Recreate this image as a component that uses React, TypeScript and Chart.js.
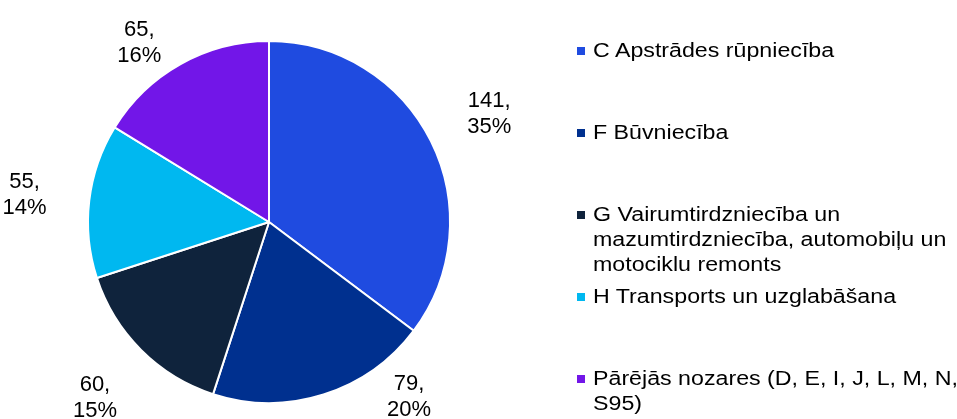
import React, { useEffect, useRef } from "react";
import { Chart, registerables } from "chart.js";

Chart.register(...registerables);

const categories = [
  "C Apstrādes rūpniecība",
  "F Būvniecība",
  "G Vairumtirdzniecība un mazumtirdzniecība, automobiļu un motociklu remonts",
  "H Transports un uzglabāšana",
  "Pārējās nozares (D, E, I, J, L, M, N, S95)",
];
const values = [141, 79, 60, 55, 65];
const colors = ["#1f4be0", "#00308f", "#0f233c", "#00b8f0", "#7216e8"];

const FONT = "'Liberation Sans', Arial, sans-serif";
const LABEL_SIZE = 22;
const LABEL_LINE = 26;

const labelPlugin = {
  id: "outsideLabels",
  afterDatasetsDraw(chart: any) {
    const ctx = chart.ctx;
    const meta = chart.getDatasetMeta(0);
    const data = chart.data.datasets[0].data as number[];
    const total = data.reduce((a, b) => a + b, 0);
    ctx.save();
    ctx.font = `${LABEL_SIZE}px ${FONT}`;
    ctx.fillStyle = "#000";
    ctx.textAlign = "center";
    ctx.textBaseline = "middle";
    const yMin = 41;
    const yMax = 400;
    meta.data.forEach((arc: any, i: number) => {
      const { x: cx, y: cy, outerRadius, startAngle, endAngle } = arc.getProps(
        ["x", "y", "outerRadius", "startAngle", "endAngle"],
        true
      );
      let dist = outerRadius * 1.36;
      let a = (startAngle + endAngle) / 2;
      let y = cy + Math.sin(a) * dist;
      if (y > yMax || y < yMin) {
        // pull the label in and slide it round the pie until it fits
        dist = outerRadius * 1.23;
        const target = y > yMax ? yMax - 5 : yMin;
        const base = Math.asin((target - cy) / dist);
        a = Math.cos(a) >= 0 ? base : Math.PI - base;
      }
      const x = cx + Math.cos(a) * dist;
      y = cy + Math.sin(a) * dist + 2;
      const pct = Math.round((data[i] / total) * 100);
      ctx.fillText(`${data[i]},`, x, y - LABEL_LINE / 2);
      ctx.fillText(`${pct}%`, x, y + LABEL_LINE / 2);
    });
    ctx.restore();
  },
};

export default function App() {
  const ref = useRef<HTMLCanvasElement>(null);
  useEffect(() => {
    if (!ref.current) return;
    const chart = new Chart(ref.current, {
      type: "pie",
      data: {
        labels: categories,
        datasets: [
          {
            data: values,
            backgroundColor: colors,
            borderColor: "#ffffff",
            borderWidth: 2,
          },
        ],
      },
      options: {
        animation: false,
        responsive: false,
        layout: { padding: { left: 87, right: 506, top: 40, bottom: 15 } },
        plugins: {
          legend: { display: false },
          tooltip: { enabled: false },
        },
      },
      plugins: [labelPlugin],
    });
    return () => chart.destroy();
  }, []);

  return (
    <div
      style={{
        position: "fixed",
        left: 0,
        top: 0,
        width: 957,
        height: 419,
        background: "#fff",
        overflow: "hidden",
      }}
    >
      <canvas ref={ref} width={957} height={419} style={{ position: "absolute", left: 0, top: 0 }} />
      {categories.map((c, i) => (
        <div
          key={i}
          style={{
            position: "absolute",
            left: 577,
            top: 38 + i * 82,
            fontFamily: FONT,
            fontSize: 20,
            lineHeight: "25px",
            color: "#000",
          }}
        >
          <span
            style={{
              position: "absolute",
              left: 0,
              top: 9,
              width: 8,
              height: 8,
              background: colors[i],
            }}
          />
          <div
            style={{
              position: "absolute",
              left: 16,
              top: 0,
              width: 322,
              transform: "scaleX(1.16)",
              transformOrigin: "left top",
              whiteSpace: "normal",
            }}
          >
            {c}
          </div>
        </div>
      ))}
    </div>
  );
}
